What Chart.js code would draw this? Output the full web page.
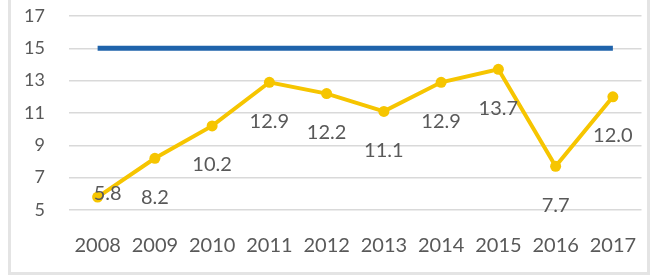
<!DOCTYPE html>
<html>
<head>
<meta charset="utf-8">
<script src="https://cdn.jsdelivr.net/npm/chart.js@4"></script>
<style>
  html, body { margin: 0; padding: 0; background: #fff; }
  body { width: 654px; height: 275px; position: relative; overflow: hidden; }
  .quadro {
    position: absolute; left: 8px; top: -4px;
    width: 636px; height: 276px;
    border: 3px solid #e4e4e4; border-top: none;
  }
  canvas { display: block; }
</style>
</head>
<body>
<div class="quadro"><canvas id="grafico" width="636" height="276"></canvas></div>
<script>
// Dados do gráfico
const anos = ['2008', '2009', '2010', '2011', '2012', '2013', '2014', '2015', '2016', '2017'];
const valores = [5.8, 8.2, 10.2, 12.9, 12.2, 11.1, 12.9, 13.7, 7.7, 12.0];
const meta = [15, 15, 15, 15, 15, 15, 15, 15, 15, 15];
const ticksY = [5, 7, 9, 11, 13, 15, 17];

const corTexto = '#595959';
const fonte = 'Lato, "Open Sans", sans-serif';

// Plugin simples para escrever os valores abaixo dos pontos
const rotulos = {
    id: 'rotulos',
    afterDatasetsDraw(chart) {
        const ctx = chart.ctx;
        const area = chart.chartArea;
        const pontos = chart.getDatasetMeta(1).data;
        ctx.save();
        ctx.fillStyle = corTexto;
        ctx.font = '20px ' + fonte;
        ctx.textAlign = 'center';
        ctx.textBaseline = 'middle';
        pontos.forEach((p, i) => {
            let x = p.x;
            let y = p.y + 39;
            // se não couber abaixo, coloca ao lado do ponto
            if (y > area.bottom) {
                x = p.x + 10;
                y = p.y - 4;
            }
            ctx.fillText(valores[i].toFixed(1), x, y);
        });
        ctx.restore();
    }
};

const ctx = document.getElementById('grafico').getContext('2d');
new Chart(ctx, {
    type: 'line',
    data: {
        labels: anos,
        datasets: [
            {
                label: 'Meta',
                data: meta,
                borderColor: '#1f63ab',
                borderWidth: 5,
                pointRadius: 0,
                tension: 0
            },
            {
                label: 'Valor',
                data: valores,
                borderColor: '#f6c500',
                backgroundColor: '#f6c500',
                borderWidth: 4,
                pointRadius: 5.5,
                pointBackgroundColor: '#f6c500',
                pointBorderWidth: 0,
                tension: 0
            }
        ]
    },
    options: {
        responsive: false,
        animation: false,
        layout: { padding: { top: 20, right: 4, left: 0, bottom: 0 } },
        plugins: {
            legend: { display: false },
            tooltip: { enabled: false }
        },
        scales: {
            x: {
                offset: true,
                grid: { color: 'transparent', tickColor: 'transparent', drawTicks: true, tickLength: 24 },
                border: { display: false },
                ticks: {
                    color: corTexto,
                    font: { family: fonte, size: 20 },
                    padding: 0,
                    maxRotation: 0,
                    autoSkip: false
                },
                afterFit(scale) { scale.height = 62; }
            },
            y: {
                min: 5,
                max: 17,
                afterBuildTicks(scale) {
                    scale.ticks = ticksY.map(v => ({ value: v }));
                },
                grid: { color: '#d9d9d9', lineWidth: 1.5, tickColor: 'transparent', drawTicks: true, tickLength: 24 },
                border: { display: false },
                ticks: {
                    color: corTexto,
                    font: { family: fonte, size: 18 },
                    padding: 0
                },
                afterFit(scale) { scale.width = 58; }
            }
        }
    },
    plugins: [rotulos]
});
</script>
</body>
</html>
